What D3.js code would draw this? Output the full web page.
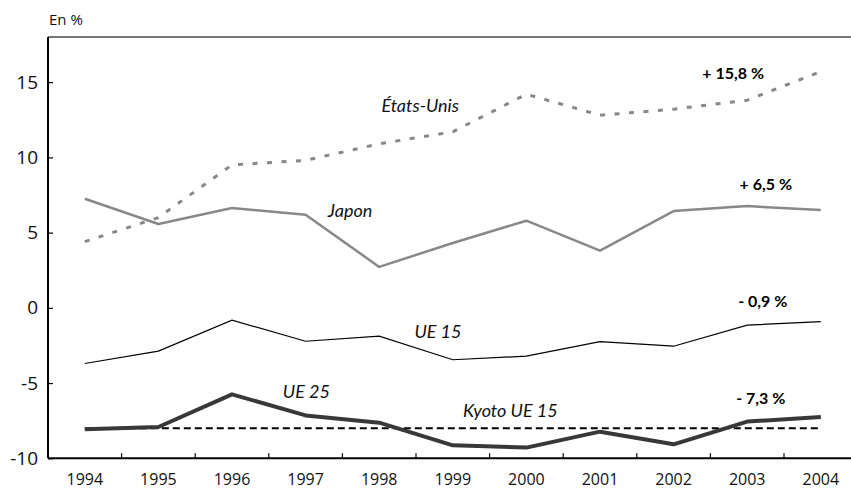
<!DOCTYPE html>
<html>
<head>
<meta charset="utf-8">
<script src="https://cdn.jsdelivr.net/npm/d3@7"></script>
<style>
  html, body { margin: 0; padding: 0; background: #fff; }
  svg { display: block; }
</style>
</head>
<body>
<svg id="chart" width="851" height="491"></svg>
<script>
// ---- Data ----
const years = ["1994","1995","1996","1997","1998","1999","2000","2001","2002","2003","2004"];
const etatsUnis = [4.4, 6.0, 9.5, 9.8, 10.9, 11.7, 14.2, 12.8, 13.2, 13.8, 15.7];
const japon     = [7.25, 5.57, 6.63, 6.19, 2.72, 4.31, 5.79, 3.80, 6.43, 6.76, 6.5];
const ue15      = [-3.70, -2.88, -0.82, -2.22, -1.88, -3.45, -3.21, -2.24, -2.55, -1.15, -0.91];
const ue25      = [-8.07, -7.92, -5.75, -7.15, -7.63, -9.14, -9.29, -8.23, -9.07, -7.56, -7.26];
const kyotoUE15 = -8;
const yTicks = [-10, -5, 0, 5, 10, 15];
const seriesNames = ["États-Unis", "Japon", "UE 15", "UE 25", "Kyoto UE 15"];
const endLabels = ["+ 15,8 %", "+ 6,5 %", "- 0,9 %", "- 7,3 %"];

(function () {
// ---- Layout ----
const svg = d3.select("#chart");
const mLeft = 48, mRight = 851, mTop = 37, mBottom = 458.3;

const x = d3.scaleBand().domain(years).range([mLeft, 857.6]);
const xc = d => x(d) + x.bandwidth() / 2;
const y = d3.scaleLinear().domain([-10, 18]).range([mBottom, mTop]);

// frame lines
svg.append("line").attr("x1", mLeft).attr("x2", mRight).attr("y1", mTop).attr("y2", mTop)
  .attr("stroke", "#4a4a4a").attr("stroke-width", 1.5);
svg.append("line").attr("x1", mLeft).attr("x2", mLeft).attr("y1", mTop).attr("y2", mBottom)
  .attr("stroke", "#000").attr("stroke-width", 2);
svg.append("line").attr("x1", mLeft).attr("x2", mRight).attr("y1", mBottom).attr("y2", mBottom)
  .attr("stroke", "#000").attr("stroke-width", 2);

// y axis
const yAxis = svg.append("g").attr("transform", `translate(${mLeft},0)`)
  .call(d3.axisLeft(y).tickValues(yTicks).tickSize(-5).tickPadding(10).tickFormat(d => String(d)));
yAxis.select(".domain").remove();
yAxis.selectAll(".tick line").attr("stroke", "#000").attr("stroke-width", 1.2);
yAxis.selectAll(".tick text").attr("font-family", "'Open Sans', sans-serif").attr("font-size", 19)
  .attr("fill", "#111");

// x axis labels
const xAxis = svg.append("g").attr("transform", `translate(0,${mBottom})`)
  .call(d3.axisBottom(x).tickSize(0).tickPadding(15));
xAxis.select(".domain").remove();
xAxis.selectAll(".tick text").attr("font-family", "'Open Sans', sans-serif").attr("font-size", 16)
  .attr("fill", "#111");
// x tick marks at band boundaries
svg.append("g").selectAll("line").data(years.slice(1)).join("line")
  .attr("x1", d => x(d)).attr("x2", d => x(d))
  .attr("y1", mBottom).attr("y2", mBottom - 5)
  .attr("stroke", "#000").attr("stroke-width", 1.2);

// lines
const line = d3.line().x((d, i) => xc(years[i])).y(d => y(d));

svg.append("line")
  .attr("x1", xc(years[0])).attr("x2", xc(years[years.length - 1]))
  .attr("y1", y(kyotoUE15)).attr("y2", y(kyotoUE15))
  .attr("stroke", "#000").attr("stroke-width", 2).attr("stroke-dasharray", "7,4");

svg.append("path").datum(etatsUnis).attr("d", line).attr("fill", "none")
  .attr("stroke", "#888").attr("stroke-width", 3).attr("stroke-dasharray", "5,9.5");
svg.append("path").datum(japon).attr("d", line).attr("fill", "none")
  .attr("stroke", "#888").attr("stroke-width", 2.5).attr("stroke-linejoin", "round");
svg.append("path").datum(ue15).attr("d", line).attr("fill", "none")
  .attr("stroke", "#000").attr("stroke-width", 1.2);
svg.append("path").datum(ue25).attr("d", line).attr("fill", "none")
  .attr("stroke", "#383838").attr("stroke-width", 4).attr("stroke-linejoin", "round");

// series labels (anchor year, value, pixel shift)
const italicFont = "Lato, 'Open Sans', sans-serif";
const nameAnchors = [
  [years[4], 13.04, 39],
  [years[3], 6.06, 59],
  [years[4], -2.02, 72],
  [years[3], -6.01, 14],
  [years[5], -7.26, 47]
];
nameAnchors.forEach((a, i) => {
  svg.append("text")
    .attr("x", x(a[0]) + a[2]).attr("y", y(a[1]))
    .attr("font-family", italicFont).attr("font-style", "italic")
    .attr("font-size", 18).attr("fill", "#111")
    .text(seriesNames[i]);
});

// end labels
const endVals = [15.21, 7.83, 0.08, -6.39];
const endYears = [years[9], years[10], years[10], years[10]];
const endDx = [-14, -55, -58, -60];
endLabels.forEach((t, i) => {
  svg.append("text")
    .attr("x", xc(endYears[i]) + endDx[i]).attr("y", y(endVals[i]))
    .attr("text-anchor", "middle")
    .attr("font-family", "Lato, sans-serif").attr("font-weight", "bold")
    .attr("font-size", 16).attr("fill", "#000")
    .text(t);
});

// unit
svg.append("text").attr("x", 49).attr("y", 25)
  .attr("font-family", "'Open Sans', sans-serif").attr("font-size", 15).attr("fill", "#111")
  .text("En %");
})();
</script>
</body>
</html>
